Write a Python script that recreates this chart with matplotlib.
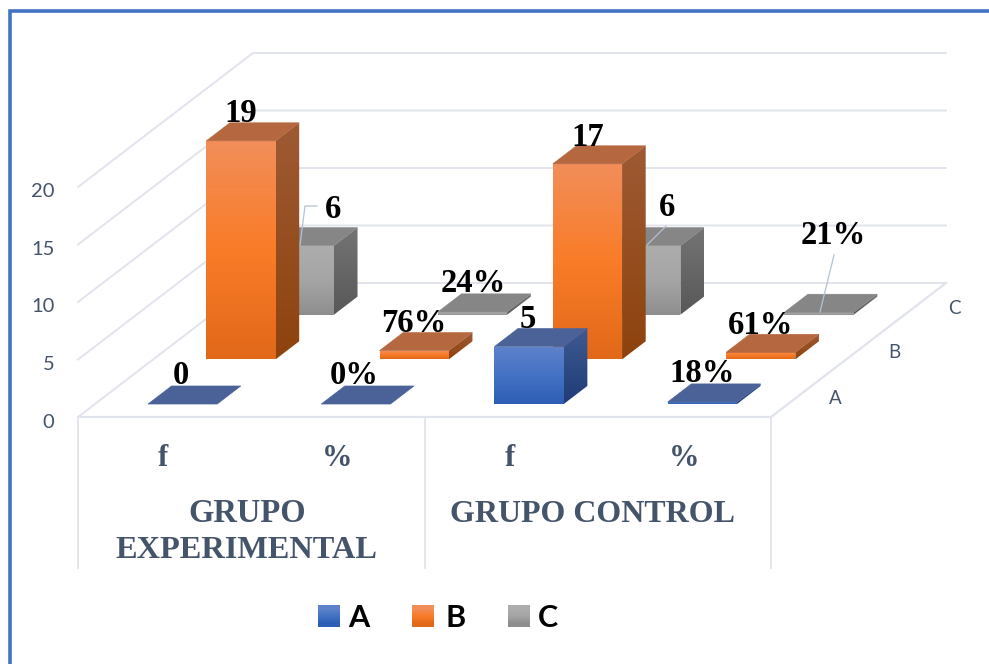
import numpy as np
import matplotlib
matplotlib.use('Agg')
import matplotlib.pyplot as plt
from matplotlib.patches import Polygon
from matplotlib.transforms import Affine2D, ScaledTranslation

# data
series_names = ['A', 'B', 'C']
a_values = [0, 0, 5, 0.18]
b_values = [19, 0.76, 17, 0.61]
c_values = [6, 0.24, 6, 0.21]
a_labels = ['0', '0%', '5', '18%']
b_labels = ['19', '76%', '17', '61%']
c_labels = ['6', '24%', '6', '21%']
sub_categories = ['f', '%', 'f', '%']
y_ticks = [0, 5, 10, 15, 20]

TEXT = '#44546A'
GRID = '#E1E4EC'
SERIF = 'Liberation Serif'
SANS = 'Lato'

# colours of each series: front (top, mid, bottom), side (top, bottom), top face
colors = {
    'A': (['#5F82CB', '#4472C4', '#2D5DB5'], ['#3F5A92', '#1F3C78'], '#4A6298'),
    'B': (['#F28E5A', '#F97C28', '#E2691A'], ['#9E5A33', '#8E430E'], '#B5683F'),
    'C': (['#ADADAD', '#A5A5A5', '#8E8E8E'], ['#747474', '#585858'], '#868686'),
}

fig = plt.figure(figsize=(9.89, 6.64), dpi=100)
ax = fig.add_axes([78 / 989, (664 - 417) / 664, 693 / 989, 230 / 664])
px = Affine2D().scale(1, -1).translate(0, 664)  # for text placed in picture pixels

# depth of the floor, in data units of x and y
DX = 175 / 173.25
DY = 134 / 11.5
BAR_W = 0.4
BAR_D = 0.135


def pt(x, y, d):
    return (x + d * DX, y + d * DY)


def gradient(pts, cols, z):
    pts = np.array(pts)
    rgb = np.array([matplotlib.colors.to_rgb(c) for c in cols])
    t = np.linspace(0, 1, 64)
    img = np.stack([np.interp(t, np.linspace(0, 1, len(cols)), rgb[:, i]) for i in range(3)], axis=1)
    img = img[:, None, :]
    ext = [pts[:, 0].min(), pts[:, 0].max(), pts[:, 1].min(), pts[:, 1].max()]
    im = ax.imshow(img, extent=ext, origin='upper', aspect='auto', zorder=z, interpolation='bilinear')
    im.set_clip_path(Polygon(pts, transform=ax.transData))
    im.set_clip_box(fig.bbox)  # bars reach over the top of the axes box


def bar3d(x, d, h, key, z):
    front, side, top = colors[key]
    x0, x1 = x, x + BAR_W
    d1 = d + BAR_D
    if h > 0:
        gradient([pt(x0, 0, d), pt(x1, 0, d), pt(x1, h, d), pt(x0, h, d)], front, z)
        gradient([pt(x1, 0, d), pt(x1, 0, d1), pt(x1, h, d1), pt(x1, h, d)], side, z)
    ax.add_patch(Polygon([pt(x0, h, d), pt(x1, h, d), pt(x1, h, d1), pt(x0, h, d1)],
                         fc=top, ec=top, lw=0.4, zorder=z + 0.1, clip_on=False))


# walls and floor
for v in y_ticks:
    ax.plot(*zip(pt(0, v, 0), pt(0, v, 1), pt(4, v, 1)), color=GRID, lw=1.4, zorder=1, clip_on=False)
ax.plot(*zip(pt(0, 0, 0), pt(4, 0, 0), pt(4, 0, 1)), color=GRID, lw=1.6, zorder=1, clip_on=False)
for x in [0, 2, 4]:
    ax.plot([x, x], [0, -13.1], color=GRID, lw=1.3, zorder=1, clip_on=False)

# bars, back row first so that the front rows cover it
z = 2
all_values = [a_values, b_values, c_values]
for i in [2, 1, 0]:
    d = (i + 0.5) / 3 - 0.07
    for k, v in enumerate(all_values[i]):
        bar3d(k + 0.306, d, v, series_names[i], z)
        z += 1

ax.set_xlim(0, 4)
ax.set_ylim(0, 20)
ax.set_xticks([])
ax.set_yticks(y_ticks)
ax.set_yticklabels([str(v) for v in y_ticks], fontsize=14.5, color=TEXT, family=SANS)
ax.tick_params(axis='y', length=0, pad=17)
shift = ScaledTranslation(0, -3.5 / 100, fig.dpi_scale_trans)
for t in ax.get_yticklabels():
    t.set_transform(t.get_transform() + shift)
for s in ax.spines.values():
    s.set_visible(False)
ax.patch.set_alpha(0)


def label(x, y, s, **kw):
    kw.setdefault('ha', 'center')
    kw.setdefault('va', 'center')
    return ax.text(x, y, s, transform=px, zorder=200, clip_on=False, **kw)


# data labels
label_xy = {
    'a': [(181, 376), (354, 376), (528, 320), (702, 374)],
    'b': [(241, 114), (414, 323), (588, 137), (761, 326)],
    'c': [(333, 210), (473, 284), (667, 207), (833, 235)],
}
for key, labs in zip('abc', [a_labels, b_labels, c_labels]):
    for (lx, ly), s in zip(label_xy[key], labs):
        label(lx, ly, s, fontsize=23.5, fontweight='bold', family=SERIF, color='black')

# leader lines
for xs, ys in [([300, 305, 317], [245, 206, 206]), ([647, 666], [245, 226]), ([820, 834], [312, 255])]:
    ax.plot(xs, ys, transform=px, color='#B4C2D4', lw=0.9, zorder=150, clip_on=False)

# category labels
for x, s in zip([163, 337, 510, 684], sub_categories):
    label(x, 458, s, fontsize=22, fontweight='bold', family=SERIF, color=TEXT)
label(247, 514, 'GRUPO', fontsize=23.5, fontweight='bold', family=SERIF, color=TEXT)
label(246, 550, 'EXPERIMENTAL', fontsize=23.3, fontweight='bold', family=SERIF, color=TEXT)
label(593, 514, 'GRUPO CONTROL', fontsize=23, fontweight='bold', family=SERIF, color=TEXT)

# depth axis labels
for x, y, s in [(835, 399, 'A'), (894, 353, 'B'), (954, 308, 'C')]:
    label(x, y, s, fontsize=13.5, color=TEXT, family=SANS)

# legend and border live on a second axes in picture pixels
bg = fig.add_axes([0, 0, 1, 1], zorder=5)
bg.set_xlim(0, 989)
bg.set_ylim(664, 0)
bg.axis('off')
bg.patch.set_alpha(0)
for name, x0, tx in zip(series_names, [318, 412, 508], [359, 456, 548]):
    cols = colors[name][0]
    rgb = np.array([matplotlib.colors.to_rgb(c) for c in cols])
    bg.imshow(rgb[:, None, :], extent=[x0, x0 + 22, 627, 605], aspect='auto', interpolation='bilinear')
    bg.text(tx, 618, name, ha='center', va='center', fontsize=22, fontweight='bold', family=SANS, color='black')
bg.set_xlim(0, 989)
bg.set_ylim(664, 0)
bg.plot([9.5, 9.5, 989], [664, 10.5, 10.5], color='#4472C4', lw=2.6, solid_joinstyle='miter')

fig.savefig('out.png', dpi=100, facecolor='white')
